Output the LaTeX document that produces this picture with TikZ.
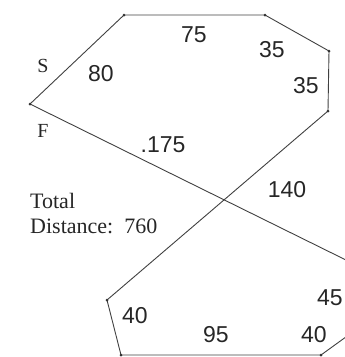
\documentclass[tikz,border=0pt]{standalone}
\usepackage{fontspec}
\setmainfont{Liberation Serif}
\newfontfamily\numfont{Liberation Sans}
\begin{document}
\begin{tikzpicture}[x=1pt,y=-1pt,
  edge/.style={draw=black!75,line width=0.9pt},
  vdot/.style={circle,fill=black!80,inner sep=0pt,minimum size=3pt},
  num/.style={font=\numfont\fontsize{23}{26}\selectfont,text=black!85,inner sep=0pt,anchor=base},
  lab/.style={font=\fontsize{20}{22}\selectfont,text=black!85,inner sep=0pt,anchor=base},
  tot/.style={font=\fontsize{22}{24}\selectfont,text=black!85,inner sep=0pt,anchor=base west}]
\useasboundingbox (0,0) rectangle (345,357);
\clip (0,0) rectangle (345,357);
\coordinate (F) at (30,104);
\coordinate (B) at (124,15);
\coordinate (C) at (265,15);
\coordinate (D) at (329,51);
\coordinate (E) at (328,111);
\coordinate (G) at (107,300);
\coordinate (H) at (121,355);
\coordinate (I) at (321,355);
\coordinate (J) at (350,334);
\coordinate (K) at (350,262);
\draw[edge] (F) -- (B) -- (C) -- (D) -- (E) -- (G) -- (H) -- (I) -- (J);
\draw[edge] (F) -- (K);
\foreach \p in {F,B,C,D,E,G,H,I} \node[vdot] at (\p) {};
\node[lab] (s) at (43,72) {S};
\node[lab] (f) at (43,137) {F};
\node[num] (n80) at (101,81) {80};
\node[num] (n75) at (194,42) {75};
\node[num] (n35a) at (272,57) {35};
\node[num] (n35b) at (306,93) {35};
\node[num] (n175) at (163,152) {.175};
\node[num] (n140) at (287,197) {140};
\node[num] (n45) at (330,305) {45};
\node[num] (n40a) at (135,323) {40};
\node[num] (n95) at (216,342) {95};
\node[num] (n40b) at (314,342) {40};
\node[tot] (tot1) at (30,208) {Total};
\node[tot] (tot2) at (30,233) {Distance:\hspace{0.5em}760};
\end{tikzpicture}
\end{document}
